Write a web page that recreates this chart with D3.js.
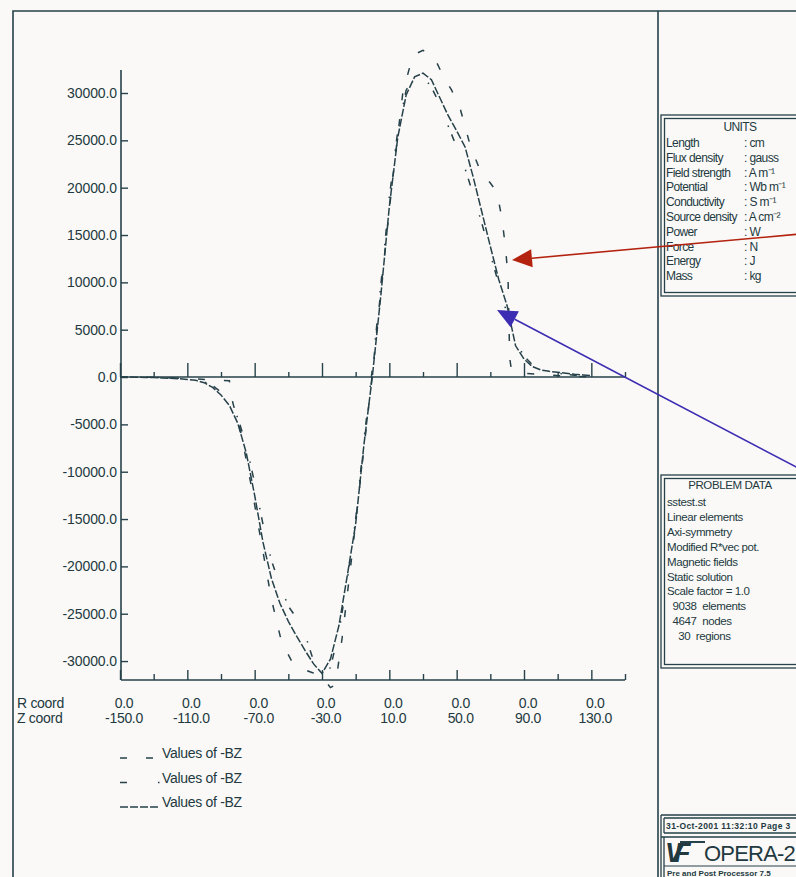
<html>
<head>
<meta charset="utf-8">
<title>OPERA-2d -BZ plot</title>
<style type="text/css">
body { margin: 0; background: #fbf9f7; }
svg { display: block; font-family: "Liberation Sans", Arial, sans-serif; }
.ink { stroke: #26414a; fill: none; }
text { fill: #22393f; }
.axis path { display: none; }
.axis line { stroke: #26414a; stroke-width: 1.4px; }
</style>
</head>
<body>
<script src="https://d3js.org/d3.v7.min.js"></script>
<script>
// curve 1 : "_  _" (coarse solution)
var z1  = [-150,-130,-110,-95,-85,-83,-78,-72,-66,-60,-54,-48,-42,-36,-30,-25,-22,-18,-12,-6,0,6,12,18,24,30,36,42,47,52,58,64,70,74,77,79,80.5,81.5,82.5,90,100,115,130];
var bz1 = [0,-30,-150,-300,-400,-2700,-6000,-11500,-17500,-23500,-28000,-30000,-30800,-31200,-31600,-32800,-32500,-27500,-18500,-9000,500,11000,21000,30000,34000,34500,34000,31800,30300,28400,24500,21800,20500,19500,16600,13700,10600,2000,800,400,250,100,0];

// curve 2 : "_   ."
var z2  = [-150,-140,-130,-120,-110,-100,-95,-90,-85,-80,-75,-70,-65,-60,-55,-50,-45,-40,-35,-30,-25,-20,-15,-10,-5,0,5,10,15,20,25,30,35,40,45,50,55,60,65,70,75,80,85,90,95,100,105,110,115,120,125,130];
var bz2 = [0,0,-30,-100,-200,-500,-900,-1600,-2700,-4300,-7200,-11200,-15600,-19400,-22000,-24200,-25500,-27200,-30000,-31500,-30700,-27000,-21500,-15000,-6500,1000,9800,19000,26000,30300,31800,31800,30600,28800,26500,24300,22000,19200,16200,13000,9800,6600,3800,2200,1300,800,550,400,280,180,100,50];

// curve 3 : "____" (fine solution)
var z3  = [-150,-145,-140,-135,-130,-125,-120,-115,-110,-105,-100,-95,-90,-85,-80,-75,-70,-65,-60,-55,-50,-45,-40,-35,-30,-25,-20,-15,-10,-5,0,5,10,15,20,25,30,35,40,45,50,55,60,65,70,75,80,85,90,95,100,105,110,115,120,125,130];
var bz3 = [0,0,-20,-40,-60,-90,-130,-180,-250,-350,-600,-1100,-1900,-3000,-4900,-8000,-12500,-17500,-21300,-23900,-25800,-27400,-28900,-30300,-31300,-29800,-26300,-21000,-15500,-7000,200,8700,18000,25300,29800,31700,32100,31400,29500,27600,26000,24300,21000,17400,13800,10300,7500,3300,1900,1100,750,600,500,400,300,220,150];

var yTicks = [-30000,-25000,-20000,-15000,-10000,-5000,0,5000,10000,15000,20000,25000,30000];
var zMinor = [-150,-130,-110,-90,-70,-50,-30,-10,10,30,50,70,90,110,130,150];
var zLabels = [-150,-110,-70,-30,10,50,90,130];
var legendLabels = ["Values of -BZ","Values of -BZ","Values of -BZ"];

var unitNames = ["Length","Flux density","Field strength","Potential","Conductivity","Source density","Power","Force","Energy","Mass"];
var unitValues = [": cm",": gauss",": A m\u207B\u00B9",": Wb m\u207B\u00B9",": S m\u207B\u00B9",": A cm\u207B\u00B2",": W",": N",": J",": kg"];
var problemLines = ["sstest.st","Linear elements","Axi-symmetry","Modified R*vec pot.","Magnetic fields","Static solution","Scale factor = 1.0","  9038  elements","  4647  nodes","    30  regions"];

var W = 796, H = 877;
var ink = "#26414a";

var svg = d3.select("body").append("svg")
    .attr("width", W)
    .attr("height", H);

svg.append("rect").attr("width", W).attr("height", H).attr("fill", "#fbf9f7");

// page frame
svg.append("path").attr("class", "ink").attr("stroke-width", 1.6)
    .attr("d", "M13,880V11H800 M658,11V880");

var x = d3.scaleLinear().domain([-150, 150]).range([120, 625]),
    y = d3.scaleLinear().domain([-32000, 32430]).range([680, 70]);

// axes lines
svg.append("line").attr("class", "ink").attr("stroke-width", 1.6)
    .attr("x1", 121).attr("x2", 121).attr("y1", y.range()[1]).attr("y2", y.range()[0]);
svg.append("line").attr("class", "ink").attr("stroke-width", 1.6)
    .attr("x1", 121).attr("x2", x(150)).attr("y1", y(0)).attr("y2", y(0));
svg.append("line").attr("class", "ink").attr("stroke-width", 1.6)
    .attr("x1", 121).attr("x2", x(150)).attr("y1", y.range()[0]).attr("y2", y.range()[0]);

var yAxis = svg.append("g").attr("class", "axis")
    .attr("transform", "translate(121,0)")
    .call(d3.axisLeft(y).tickValues(yTicks).tickSizeInner(-7).tickPadding(4)
        .tickFormat(function(d) { return d.toFixed(1); }));
yAxis.selectAll("text").attr("font-size", 14).attr("fill", "#22393f")
    .attr("font-family", "Liberation Sans, Arial, sans-serif").style("letter-spacing", "-0.1px");

function zTicks(yPos, values, len) {
  svg.append("g").attr("class", "axis")
      .attr("transform", "translate(0," + yPos + ")")
      .call(d3.axisTop(x).tickValues(values).tickSize(len).tickFormat(""));
}
var zSmall = zMinor.filter(function(d) { return zLabels.indexOf(d) < 0; });
zTicks(y(0), zSmall, 5);
zTicks(y(0), zLabels, 14);
zTicks(y.range()[0], zSmall, 6);
zTicks(y.range()[0], zLabels, 10);

// bottom labels
var lab = svg.append("g").attr("font-size", 14).style("letter-spacing", "-0.3px");
lab.append("text").attr("x", 17).attr("y", 708).text("R coord");
lab.append("text").attr("x", 17).attr("y", 723).text("Z coord");
lab.selectAll(".r").data(zLabels).enter().append("text")
    .attr("x", function(d) { return x(d) + 4; }).attr("y", 708)
    .attr("text-anchor", "middle").text("0.0");
lab.selectAll(".z").data(zLabels).enter().append("text")
    .attr("x", function(d) { return x(d) + 4; }).attr("y", 723)
    .attr("text-anchor", "middle").text(function(d) { return d.toFixed(1); });

// curves
var series = [
  { z: z1, v: bz1, dash: "7,19" },
  { z: z2, v: bz2, dash: "7,31,1.5,8" },
  { z: z3, v: bz3, dash: "8,2" }
];
var line = d3.line().x(function(d) { return x(d[0]); }).y(function(d) { return y(d[1]); });
series.forEach(function(s) {
  svg.append("path").attr("class", "ink")
      .attr("stroke-width", 1.5)
      .attr("stroke-dasharray", s.dash)
      .attr("d", line(d3.zip(s.z, s.v)));
});

// legend
series.forEach(function(s, i) {
  var ly = 758 + i * 24.5;
  svg.append("line").attr("class", "ink").attr("stroke-width", 1.5)
      .attr("stroke-dasharray", s.dash)
      .attr("x1", 120).attr("x2", 160).attr("y1", ly).attr("y2", ly);
  svg.append("text").attr("x", 162).attr("y", ly).attr("font-size", 14)
      .style("letter-spacing", "-0.3px").text(legendLabels[i]);
});

// side panel boxes
function dbox(x0, y0, y1) {
  svg.append("rect").attr("class", "ink").attr("stroke-width", 1.3)
      .attr("x", x0).attr("y", y0).attr("width", 200).attr("height", y1 - y0);
  svg.append("rect").attr("class", "ink").attr("stroke-width", 1.3)
      .attr("x", x0 + 3.5).attr("y", y0 + 3.5).attr("width", 200).attr("height", y1 - y0 - 7);
}
dbox(661, 115, 296);
dbox(661, 475, 668);

var units = svg.append("g").attr("font-size", 12).style("letter-spacing", "-0.6px");
units.append("text").attr("x", 740).attr("y", 131).attr("text-anchor", "middle").text("UNITS");
units.selectAll(".n").data(unitNames).enter().append("text")
    .attr("x", 666).attr("y", function(d, i) { return 147 + i * 14.8; }).text(function(d) { return d; });
units.selectAll(".v").data(unitValues).enter().append("text")
    .attr("x", 744).attr("y", function(d, i) { return 147 + i * 14.8; }).text(function(d) { return d; });

var prob = svg.append("g").attr("font-size", 11.5).style("letter-spacing", "-0.4px")
    .style("white-space", "pre");
prob.append("text").attr("x", 730).attr("y", 489).attr("text-anchor", "middle").text("PROBLEM DATA");
prob.selectAll(".p").data(problemLines).enter().append("text")
    .attr("x", 667).attr("y", function(d, i) { return 506 + i * 14.9; })
    .attr("xml:space", "preserve").text(function(d) { return d; });

// date / logo boxes
svg.append("path").attr("class", "ink").attr("stroke-width", 1.3)
    .attr("d", "M661,815H800 M664,818H800 M664,818V833 M664,833H800 M661,837H800 M661,815V880 M664,837V880");
svg.append("text").attr("x", 666).attr("y", 829).attr("font-size", 8.5).attr("font-weight", "bold")
    .style("letter-spacing", "0.4px").text("31-Oct-2001 11:32:10 Page 3");
svg.append("text").attr("x", 665).attr("y", 862).attr("font-size", 27).attr("font-weight", "bold")
    .attr("font-style", "italic").style("letter-spacing", "-9px").text("VF");
svg.append("line").attr("class", "ink").attr("stroke-width", 2)
    .attr("x1", 680).attr("x2", 705).attr("y1", 842).attr("y2", 842);
svg.append("text").attr("x", 704).attr("y", 861).attr("font-size", 22)
    .style("letter-spacing", "-0.8px").text("OPERA-2");
svg.append("line").attr("class", "ink").attr("stroke-width", 1)
    .attr("x1", 664).attr("x2", 800).attr("y1", 866).attr("y2", 866);
svg.append("text").attr("x", 667).attr("y", 876).attr("font-size", 8).attr("font-weight", "bold")
    .text("Pre and Post Processor  7.5");

// arrows
function arrow(x1, y1, x2, y2, col, len, half) {
  var a = Math.atan2(y2 - y1, x2 - x1);
  var bx = x2 - len * Math.cos(a), by = y2 - len * Math.sin(a);
  svg.append("line").attr("stroke", col).attr("stroke-width", 1.6)
      .attr("x1", x1).attr("y1", y1).attr("x2", bx).attr("y2", by);
  var px = -Math.sin(a) * half, py = Math.cos(a) * half;
  svg.append("path").attr("fill", col)
      .attr("d", "M" + x2 + "," + y2 + "L" + (bx + px) + "," + (by + py) + "L" + (bx - px) + "," + (by - py) + "Z");
}
arrow(800, 234, 512, 260, "#b3230f", 20, 9);
arrow(800, 469, 497, 310, "#3c2db3", 20, 9);
</script>
</body>
</html>
